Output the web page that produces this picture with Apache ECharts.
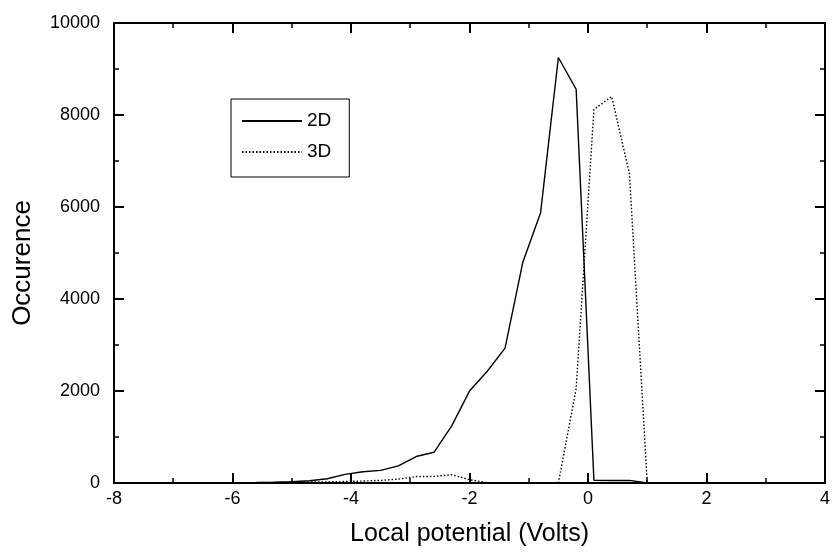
<!DOCTYPE html>
<html>
<head>
<meta charset="utf-8">
<script src="https://cdn.jsdelivr.net/npm/echarts@6/dist/echarts.min.js"></script>
<style>
html,body{margin:0;padding:0;background:#fff;}
#chart{width:833px;height:552px;}
</style>
</head>
<body>
<div id="chart"></div>
<script>
// Local potential (Volts)
var potentials = [-6.8, -6.5, -6.2, -5.9, -5.6, -5.3, -5.0, -4.7, -4.4, -4.1, -3.8, -3.5, -3.2, -2.9, -2.6, -2.3, -2.0, -1.7, -1.4, -1.1, -0.8, -0.5, -0.2, 0.1, 0.4, 0.7, 1.0, 1.3];
// Occurence, 2D
var occ2D = [2, 3, 5, 7, 10, 15, 28, 50, 93, 187, 244, 274, 373, 575, 668, 1243, 1998, 2429, 2931, 4800, 5877, 9250, 8560, 58, 55, 58, 0, 0];
// Occurence, 3D
var occ3D = [1, 2, 3, 5, 8, 12, 16, 20, 25, 32, 42, 57, 85, 140, 144, 180, 72, 5, 0, 0, 0, 0, 2050, 8120, 8400, 6720, 0, 0];
var seriesNames = ['2D', '3D'];
var xTicks = {min: -8, max: 4, interval: 2};
var yTicks = {min: 0, max: 10000, interval: 2000};

function pairs(xs, ys) { return xs.map(function (x, i) { return [x, ys[i]]; }); }

var font = 'Liberation Sans, Arial, Helvetica, sans-serif';
var axisCommon = {
  axisLine: {show: true, onZero: false, lineStyle: {color: '#000', width: 2}},
  axisTick: {show: true, inside: true, length: 10, lineStyle: {color: '#000', width: 2}},
  minorTick: {show: true, splitNumber: 2, length: 5, lineStyle: {color: '#000', width: 1.5}},
  splitLine: {show: false},
  minorSplitLine: {show: false}
};

var chart = echarts.init(document.getElementById('chart'), null, {renderer: 'canvas'});
chart.setOption({
  animation: false,
  backgroundColor: '#fff',
  grid: {left: 114, right: 4, top: 23, bottom: 66, containLabel: false},
  legend: {
    show: true,
    orient: 'vertical',
    left: 231,
    top: 99,
    data: seriesNames,
    itemWidth: 60,
    itemHeight: 20,
    itemGap: 11,
    borderColor: '#000',
    borderWidth: 1,
    borderRadius: 0,
    padding: [12, 18, 15, 10],
    itemStyle: {opacity: 0},
    textStyle: {fontFamily: font, fontSize: 19, color: '#000', lineHeight: 20}
  },
  xAxis: [
    Object.assign({
      type: 'value', position: 'bottom', min: xTicks.min, max: xTicks.max, interval: xTicks.interval,
      name: 'Local potential (Volts)', nameLocation: 'middle', nameGap: 39,
      nameTextStyle: {fontFamily: font, fontSize: 25, color: '#000'},
      axisLabel: {show: true, margin: 7, fontFamily: font, fontSize: 18, color: '#000'}
    }, axisCommon),
    Object.assign({
      type: 'value', position: 'top', min: xTicks.min, max: xTicks.max, interval: xTicks.interval,
      axisLabel: {show: false}
    }, axisCommon)
  ],
  yAxis: [
    Object.assign({
      type: 'value', position: 'left', min: yTicks.min, max: yTicks.max, interval: yTicks.interval,
      name: 'Occurence', nameLocation: 'middle', nameGap: 78, nameRotate: 90,
      nameTextStyle: {fontFamily: font, fontSize: 26, color: '#000', padding: [0, 20, 0, 0]},
      axisLabel: {show: true, margin: 14, fontFamily: font, fontSize: 18, color: '#000',
        formatter: function (v) { return String(v); }}
    }, axisCommon),
    Object.assign({
      type: 'value', position: 'right', min: yTicks.min, max: yTicks.max, interval: yTicks.interval,
      axisLabel: {show: false}
    }, axisCommon)
  ],
  series: [
    {
      name: seriesNames[0], type: 'line', xAxisIndex: 0, yAxisIndex: 0,
      data: pairs(potentials, occ2D), symbol: 'none', showSymbol: false,
      lineStyle: {color: '#000', width: 1.4, type: 'solid'}, itemStyle: {color: '#000'}
    },
    {
      name: seriesNames[1], type: 'line', xAxisIndex: 0, yAxisIndex: 0,
      data: pairs(potentials, occ3D), symbol: 'none', showSymbol: false,
      lineStyle: {color: '#000', width: 1.4, type: [1.5, 2]}, itemStyle: {color: '#000'}
    }
  ]
});
</script>
</body>
</html>
